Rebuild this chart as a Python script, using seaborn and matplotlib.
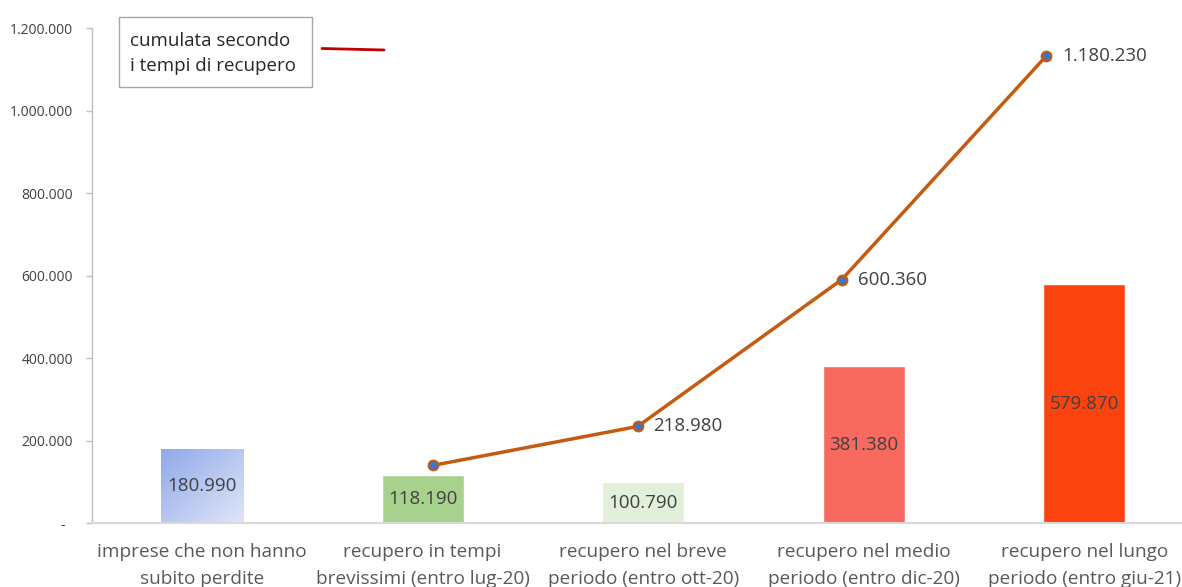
import numpy as np
import matplotlib
matplotlib.use("Agg")
import matplotlib.pyplot as plt
from matplotlib.patches import Rectangle
from matplotlib.lines import Line2D
import seaborn as sns

# ---- data ----
categories = [
    "imprese che non hanno\nsubito perdite",
    "recupero in tempi\nbrevissimi (entro lug-20)",
    "recupero nel breve\nperiodo (entro ott-20)",
    "recupero nel medio\nperiodo (entro dic-20)",
    "recupero nel lungo\nperiodo (entro giu-21)",
]
values = [180990, 118190, 100790, 381380, 579870]
cumulative = [118190, 218980, 600360, 1180230]
cumulative_labels_shown = [False, True, True, True]
yticks = [0, 200000, 400000, 600000, 800000, 1000000, 1200000]
legend_text = "cumulata secondo\ni tempi di recupero"

bar_colors = ["#B7C6F0", "#A9D18E", "#E2EFDA", "#F8695F", "#FB4310"]


def fmt(v):
    return "-  " if v == 0 else f"{v:,}".replace(",", ".")


sns.set_style("white")
plt.rcParams["font.family"] = ["Open Sans", "DejaVu Sans"]

W, H = 1182, 587
fig = plt.figure(figsize=(W / 100, H / 100), dpi=100)
pos = [91.7 / W, (H - 523.3) / H, 1102.9 / W, 495 / H]
ax = fig.add_axes(pos)

sns.barplot(x=list(range(len(values))), y=values, hue=list(range(len(values))),
            palette=bar_colors, saturation=1, legend=False, width=0.372,
            ax=ax, native_scale=False)

ax.set_xlim(-0.5, 4.5)
ax.set_ylim(0, 1200000)

# gradient on first bar
p0 = ax.patches[0]
x0, w0, h0 = p0.get_x(), p0.get_width(), p0.get_height()
c_dark = np.array([143, 168, 233]) / 255
c_light = np.array([224, 230, 248]) / 255
nx, ny = 100, 100
u = np.linspace(0, 1, nx)[None, :]
v = np.linspace(0, 1, ny)[:, None]
t = np.clip((u + (1 - v)) / 2, 0, 1)
grad = c_dark[None, None, :] * (1 - t[..., None]) + c_light[None, None, :] * t[..., None]
p0.set_facecolor("none")
im = ax.imshow(grad, extent=[x0, x0 + w0, 0, h0], origin="lower", aspect="auto",
               zorder=p0.get_zorder(), interpolation="bilinear")
im.set_clip_path(p0)
ax.set_xlim(-0.5, 4.5)
ax.set_ylim(0, 1200000)

# bar labels
for p, val in zip(ax.patches, values):
    ax.text(p.get_x() + p.get_width() / 2, p.get_height() / 2, fmt(val),
            ha="center", va="center", fontsize=13.5, color="#404040", zorder=5)

ax.set_yticks(yticks)
ax.set_yticklabels([fmt(v) for v in yticks], fontsize=10, color="#404040")
ax.set_xticks(range(len(categories)))
ax.set_xticklabels(categories, fontsize=13.7, color="#595959", linespacing=1.6)
ax.tick_params(axis="y", left=True, length=4.4, width=1, color="#BFBFBF", pad=9)
ax.tick_params(axis="x", bottom=False, pad=11)
ax.set_xlabel("")
ax.set_ylabel("")
for s in ["top", "right"]:
    ax.spines[s].set_visible(False)
ax.spines["left"].set_color("#BFBFBF")
ax.spines["left"].set_linewidth(1)
ax.spines["bottom"].set_color("#D9D9D9")
ax.spines["bottom"].set_linewidth(1.5)

# secondary axes for the cumulative line
ax2 = fig.add_axes(pos)
ax2.patch.set_visible(False)
line_x = np.arange(1, len(categories))
sns.lineplot(x=line_x, y=cumulative, ax=ax2, color="#C55A11", linewidth=2.5,
             marker="o", markersize=7, markerfacecolor="#4472C4",
             markeredgecolor="#C55A11", markeredgewidth=1.5)
ax2.set_xlim(-0.673, 4.728)
ax2.set_ylim(-32420, 1252960)
ax2.set_axis_off()
for xi, yi, show in zip(line_x, cumulative, cumulative_labels_shown):
    if show:
        ax2.annotate(fmt(yi), (xi, yi), xytext=(11.5, 0), textcoords="offset points",
                     ha="left", va="center", fontsize=13.5, color="#404040")

# legend-like box
fig.patches.append(Rectangle((119.3 / W, 1 - 87.3 / H), 193 / W, 70 / H,
                             transform=fig.transFigure, facecolor="white",
                             edgecolor="#A6A6A6", linewidth=1))
fig.text(130 / W, 1 - 53.5 / H, legend_text, ha="left", va="center",
         fontsize=13.5, color="#262626", linespacing=1.5)
fig.lines.append(Line2D([322 / W, 384 / W], [1 - 48.5 / H, 1 - 50 / H],
                        transform=fig.transFigure, color="#C00000", linewidth=2))

fig.savefig("out.png", dpi=100)
